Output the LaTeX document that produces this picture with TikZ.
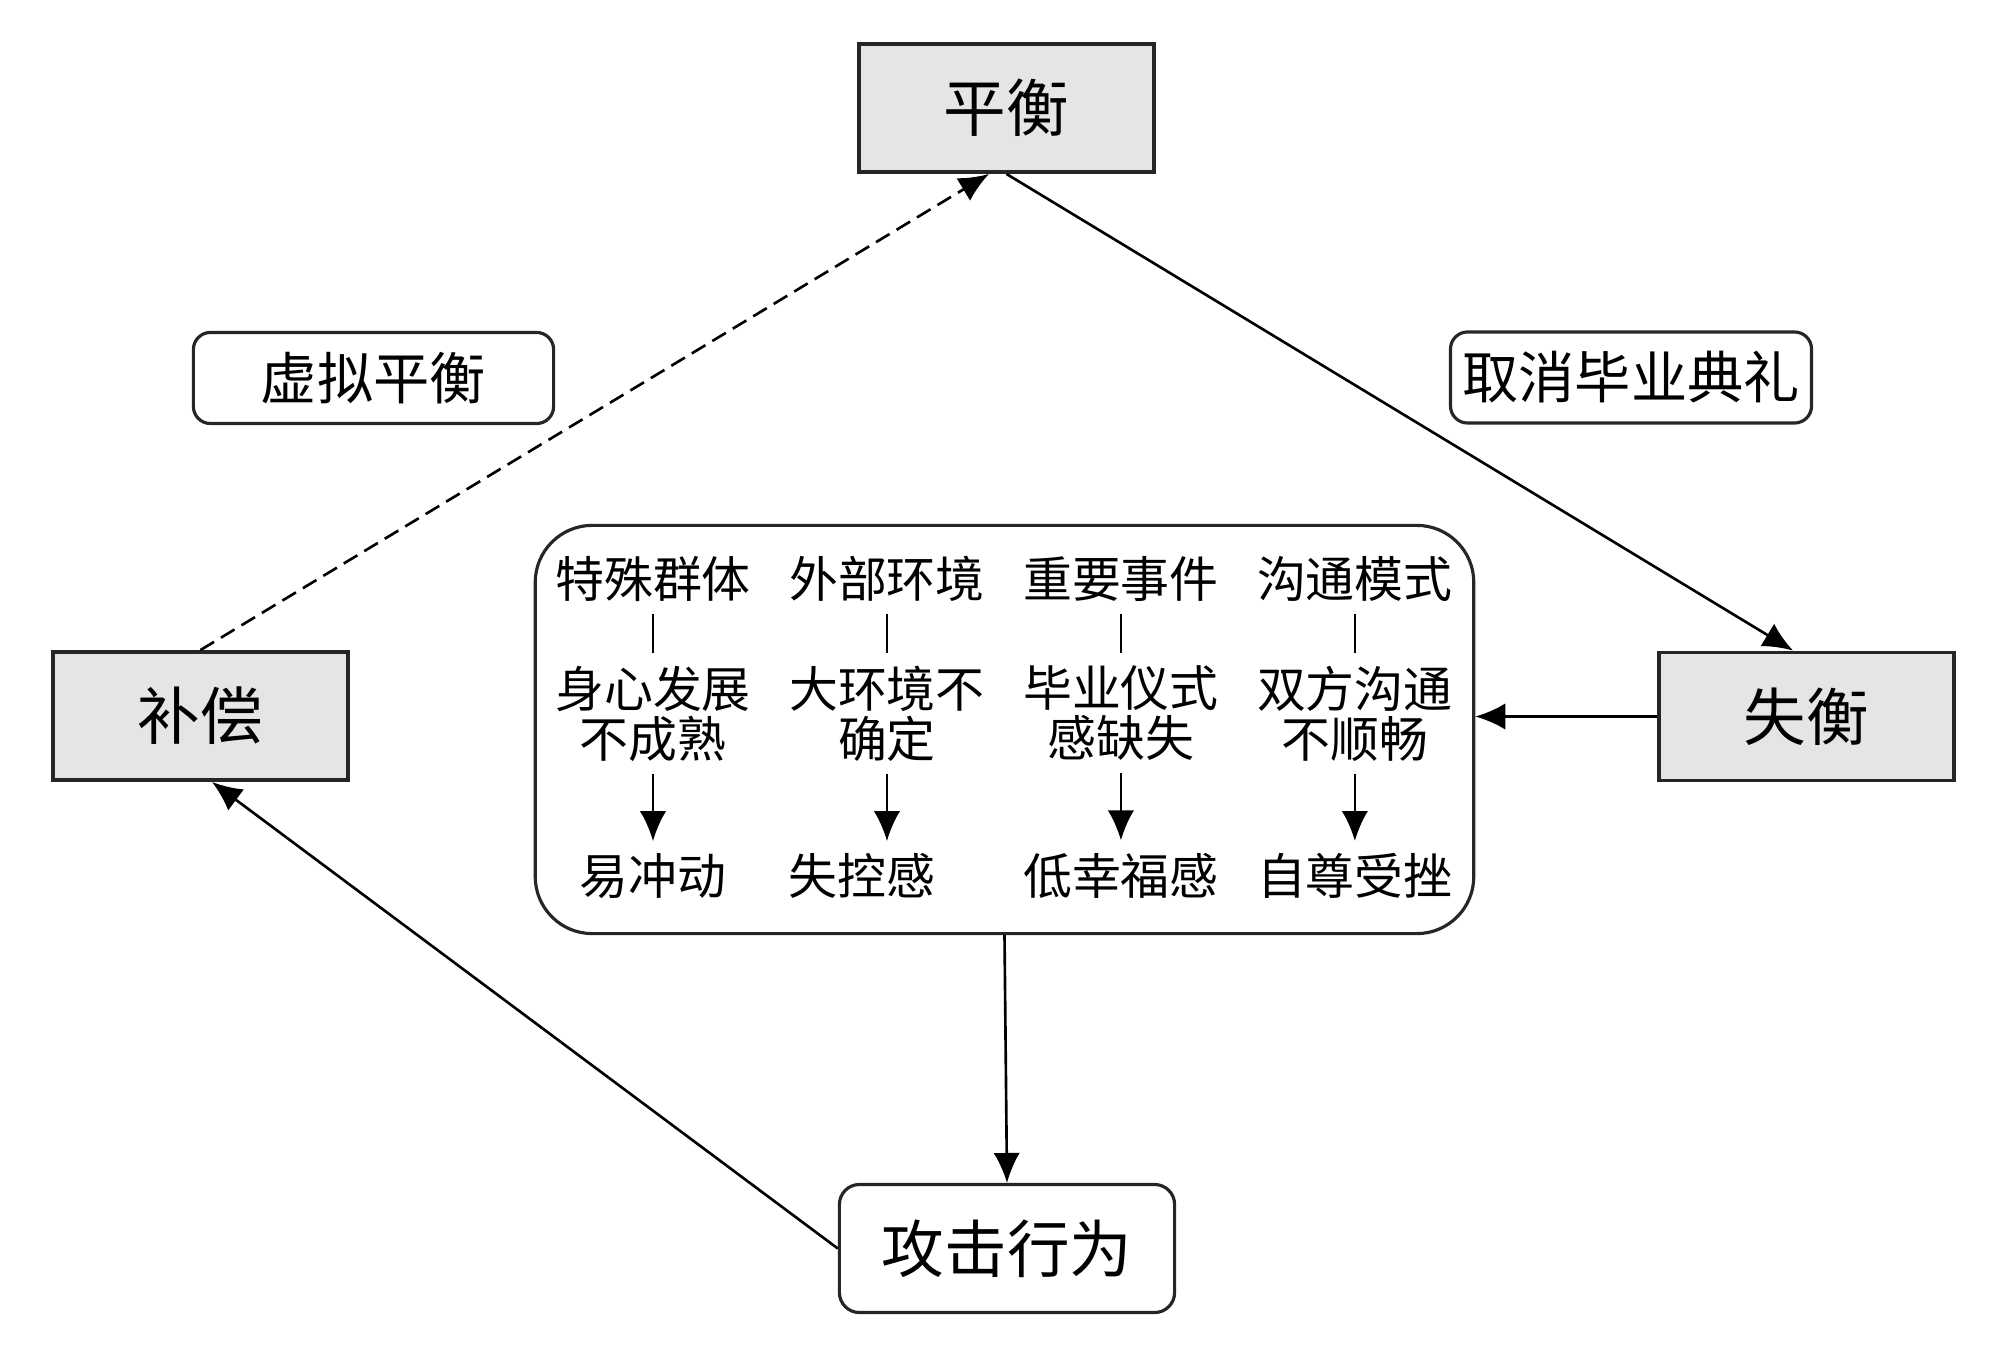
\documentclass[tikz,border=0pt]{standalone}
\usepackage{fontspec}
\newfontfamily\cjk{Noto Sans CJK SC}
\usepackage{tikz}
\usetikzlibrary{positioning}
\usetikzlibrary{arrows.meta}
\tikzstyle{arrow} = [line width=0.75pt,-{Latex[length=8.5pt,width=7.5pt]}]
\tikzstyle{statebox} = [draw=black!85, fill=black!10, line width=1.1pt, minimum width=2.95cm, minimum height=1.28cm, font=\cjk\fontsize{17.8}{18}\selectfont]
\tikzstyle{labelbox} = [draw=black!85, rounded corners=0.17cm, line width=0.9pt, minimum width=3.6cm, minimum height=0.91cm, font=\cjk\fontsize{16}{17}\selectfont]
\tikzstyle{groupbox} = [draw=black!85, rounded corners=0.57cm, line width=0.9pt, minimum width=9.38cm, minimum height=4.08cm]
\tikzstyle{itemtext} = [inner sep=0.12cm, align=center, font=\cjk\fontsize{13.9}{14.15}\selectfont]

\begin{document}
\begin{tikzpicture}[x=0.01cm,y=-0.01cm]
	\useasboundingbox (0,0) rectangle (2000,1358);
	%States
	\node [statebox] (balance) at (1006.5,108) {平衡};
	\node [statebox] (compensate) at (200.5,716) {补偿};
	\node [statebox] (imbalance) at (1806.5,716.5) {失衡};
	\node [labelbox] (virtual) at (373.5,378) {虚拟平衡};
	\node [labelbox, minimum width=3.53cm] (cancel) at (1631,377.5) {取消毕业典礼};
	\node [groupbox] (factors) at (1004.5,729.5) {};
	\node [labelbox, rounded corners=0.2cm, minimum width=3.35cm, minimum height=1.28cm, font=\cjk\fontsize{17.8}{18}\selectfont] (attack) at (1007,1248.5) {攻击行为};
	
	%Factors
	\node [itemtext] (groupT) at (653,579) {特殊群体};
	\node [itemtext, right=0.13cm of groupT] (envT) {外部环境};
	\node [itemtext, right=0.13cm of envT] (eventT) {重要事件};
	\node [itemtext, right=0.13cm of eventT] (commT) {沟通模式};
	
	\node [itemtext, below=0.39cm of groupT] (groupM) {身心发展\\不成熟};
	\node [itemtext, below=0.39cm of envT] (envM) {大环境不\\确定};
	\node [itemtext, below=0.39cm of eventT] (eventM) {毕业仪式\\感缺失};
	\node [itemtext, below=0.39cm of commT] (commM) {双方沟通\\不顺畅};
	
	\node [itemtext, below=0.67cm of groupM] (groupB) {易冲动};
	\node [itemtext, below=0.67cm of envM, xshift=-0.25cm] (envB) {失控感};
	\node [itemtext, below=0.67cm of eventM] (eventB) {低幸福感};
	\node [itemtext, below=0.67cm of commM] (commB) {自尊受挫};
	
	\foreach \f in {group,env,event,comm}{
		\draw[line width=0.75pt] (\f T) -- (\f M);
		\draw[arrow] (\f M) -- (\f M |- \f B.north);
	}
	
	%Arrows
	\draw[arrow, dash pattern=on 4.5pt off 2.3pt] (compensate.north) -- ([xshift=-0.175cm]balance.south);
	\draw[arrow] (balance.south) -- ([xshift=-0.135cm]imbalance.north);
	\draw[arrow] (imbalance.west) -- (imbalance.west -| factors.east);
	\draw[arrow] (factors.south) -- (attack.north);
	\draw[arrow] (attack.west) -- ([xshift=0.115cm]compensate.south);
\end{tikzpicture}
\end{document}
